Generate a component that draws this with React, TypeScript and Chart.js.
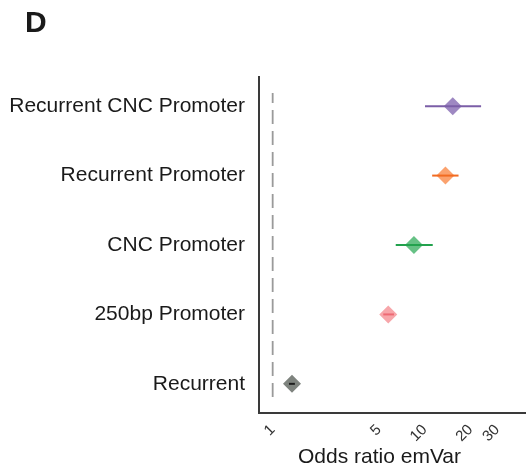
import React, { useEffect, useRef } from "react";
import { Chart, registerables } from "chart.js";

Chart.register(...registerables);

// Categories from bottom (y = 1) to top (y = 5)
const categories = [
  "Recurrent",
  "250bp Promoter",
  "CNC Promoter",
  "Recurrent Promoter",
  "Recurrent CNC Promoter",
];
const oddsRatio = [1.34, 5.76, 8.5, 13.7, 15.3];
const ciLow = [1.28, 5.34, 6.45, 11.2, 10.05];
const ciHigh = [1.4, 6.28, 11.3, 16.7, 23.5];
const lineColors = ["#1e1e1e", "#ee6a74", "#22a24d", "#f26b21", "#7b5ea7"];
const diamondColors = ["#7e837e", "#f7a6aa", "#66c185", "#fba26e", "#9e88c2"];
const xTicks = [1, 5, 10, 20, 30];
const refValue = 1;
const panelLetter = "D";
const xTitle = "Odds ratio emVar";

const FONT = "'Liberation Sans', Arial, Helvetica, sans-serif";

export default function App() {
  const ref = useRef<HTMLCanvasElement | null>(null);

  useEffect(() => {
    document.body.style.margin = "0";
    const canvas = ref.current;
    if (!canvas) return;

    const errorSets = categories.map((c, i) => ({
      type: "line" as const,
      label: c + " CI",
      data: [
        { x: ciLow[i], y: i + 1 },
        { x: ciHigh[i], y: i + 1 },
      ],
      borderColor: lineColors[i],
      borderWidth: 2,
      pointRadius: 0,
      showLine: true,
      order: 1,
    }));

    const textPlugin = {
      id: "texts",
      afterDraw(chart: any) {
        const ctx = chart.ctx;
        ctx.save();
        ctx.fillStyle = "#1a1a1a";
        ctx.font = `bold 30px ${FONT}`;
        ctx.textAlign = "left";
        ctx.textBaseline = "alphabetic";
        ctx.fillText(panelLetter, 25, 31.5);
        ctx.font = `21px ${FONT}`;
        ctx.textAlign = "center";
        ctx.fillText(xTitle, 379.5, 463);
        ctx.restore();
      },
    };

    const chart = new Chart(canvas, {
      type: "scatter",
      data: {
        datasets: [
          ...errorSets,
          {
            type: "scatter" as const,
            label: "Odds ratio",
            data: oddsRatio.map((v, i) => ({ x: v, y: i + 1 })),
            pointStyle: "rectRot",
            pointRadius: 9,
            pointHoverRadius: 9,
            backgroundColor: diamondColors,
            borderWidth: 0,
            order: 2,
          },
          {
            type: "line" as const,
            label: "ref",
            data: [
              { x: refValue, y: 0.81 },
              { x: refValue, y: 5.19 },
            ],
            borderColor: "#9a9a9a",
            borderWidth: 1.8,
            borderDash: [14, 7],
            pointRadius: 0,
            showLine: true,
            order: 3,
          },
        ] as any,
      },
      options: {
        animation: false,
        responsive: false,
        layout: { autoPadding: false, padding: { top: 77, left: 0, right: 0, bottom: 0 } },
        plugins: {
          legend: { display: false },
          tooltip: { enabled: false },
          title: { display: false },
        },
        scales: {
          x: {
            type: "logarithmic",
            min: 0.813,
            max: 46.4,
            bounds: "data",
            grid: { display: false, drawTicks: false },
            border: { display: true, color: "#3a3a3a", width: 2 },
            afterBuildTicks: (scale: any) => {
              scale.ticks = xTicks.map((v) => ({ value: v }));
            },
            afterFit: (scale: any) => {
              scale.height = 61;
              scale.paddingRight = 0;
              scale.paddingLeft = 0;
            },
            ticks: {
              autoSkip: false,
              minRotation: 45,
              maxRotation: 45,
              padding: 8,
              color: "#333333",
              font: { family: FONT, size: 15 },
              callback: (v: any) => String(v),
            },
          },
          y: {
            type: "linear",
            min: 0.58,
            max: 5.42,
            grid: { display: false, drawTicks: false },
            border: { display: true, color: "#3a3a3a", width: 2 },
            afterBuildTicks: (scale: any) => {
              scale.ticks = categories.map((_, i) => ({ value: i + 1 }));
            },
            afterFit: (scale: any) => {
              scale.width = 259;
              scale.paddingTop = 0;
              scale.paddingBottom = 0;
            },
            ticks: {
              autoSkip: false,
              padding: 14,
              color: "#1a1a1a",
              font: { family: FONT, size: 21 },
              callback: (v: any) => categories[Math.round(v) - 1] ?? "",
            },
          },
        },
      } as any,
      plugins: [textPlugin],
    });

    return () => chart.destroy();
  }, []);

  return (
    <div style={{ position: "absolute", left: 0, top: 0, width: 526, height: 474 }}>
      <canvas ref={ref} width={526} height={474} />
    </div>
  );
}
